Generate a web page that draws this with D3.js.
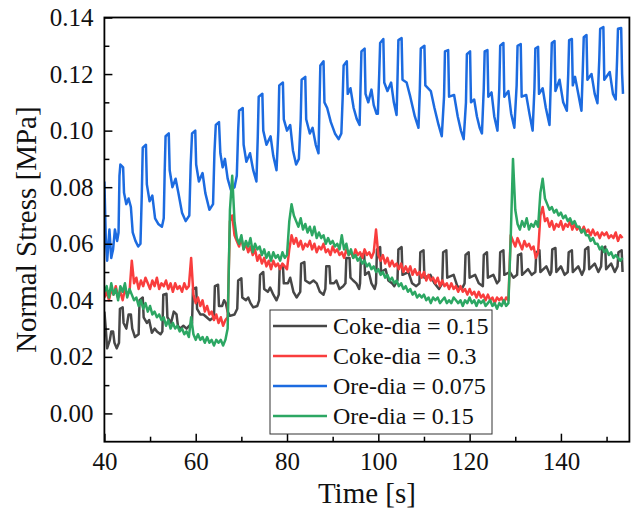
<!DOCTYPE html>
<html>
<head>
<meta charset="utf-8">
<script src="https://cdn.jsdelivr.net/npm/d3@7"></script>
<style>
  body { margin: 0; background: #fff; }
  svg { display: block; font-family: "Times New Roman", "Liberation Serif", serif; }
</style>
</head>
<body>
<div id="chart"></div>
<script>
// series, [time s, stress MPa]
const seriesNames = ["Coke-dia = 0.15", "Coke-dia = 0.3", "Ore-dia = 0.075", "Ore-dia = 0.15"];
const seriesColors = ["#474747", "#f93d3d", "#1c6be0", "#2ca763"];

const cokeSmall = [
  [40.0, 0.036], [40.3, 0.030], [40.6, 0.023], [41.2, 0.026], [41.5, 0.029], [41.9, 0.029], [42.2, 0.025], [42.7, 0.023], [43.2, 0.025],
  [43.4, 0.037], [44.0, 0.0375], [44.2, 0.032], [44.8, 0.030], [45.3, 0.035], [45.8, 0.035], [46.1, 0.030], [46.7, 0.027], [47.5, 0.028],
  [47.7, 0.040], [48.4, 0.041], [48.6, 0.034], [49.3, 0.032], [49.8, 0.033], [50.4, 0.0285], [51.0, 0.030], [51.5, 0.029], [52.3, 0.028], [52.7, 0.029],
  [52.9, 0.042], [53.6, 0.0423], [53.8, 0.034], [54.6, 0.032], [55.2, 0.036], [55.8, 0.035], [56.1, 0.031], [56.6, 0.030], [57.3, 0.031], [58.0, 0.030], [59.2, 0.032],
  [59.4, 0.044], [60.1, 0.0445], [60.3, 0.037], [61.0, 0.035], [61.7, 0.035], [62.4, 0.034], [63.1, 0.033], [64.0, 0.034],
  [64.2, 0.045], [64.9, 0.0455], [65.1, 0.038], [65.8, 0.038], [66.2, 0.040], [66.6, 0.039], [67.0, 0.036], [67.5, 0.0345], [68.5, 0.035], [69.1, 0.037],
  [69.3, 0.047], [70.0, 0.0478], [70.2, 0.041], [71.0, 0.040], [71.5, 0.041], [72.0, 0.039], [72.6, 0.0375], [73.5, 0.038], [73.9, 0.040],
  [74.1, 0.049], [74.8, 0.050], [75.0, 0.044], [75.8, 0.043], [76.3, 0.0445], [77.0, 0.042], [77.7, 0.040], [78.2, 0.042],
  [78.4, 0.052], [79.1, 0.0524], [79.3, 0.046], [80.2, 0.046], [80.7, 0.048], [81.4, 0.043], [82.1, 0.041], [82.9, 0.043],
  [83.1, 0.053], [83.8, 0.0535], [84.0, 0.047], [85.0, 0.046], [85.8, 0.047], [86.5, 0.046], [87.2, 0.043], [88.0, 0.042], [88.4, 0.044],
  [88.6, 0.052], [89.3, 0.052], [89.5, 0.046], [90.3, 0.046], [90.8, 0.047], [91.5, 0.044], [92.3, 0.045], [92.8, 0.046],
  [93.0, 0.055], [93.7, 0.055], [93.9, 0.048], [94.5, 0.047], [95.2, 0.046], [95.8, 0.044], [96.0, 0.046],
  [96.2, 0.056], [96.9, 0.0565], [97.1, 0.049], [97.9, 0.050], [98.5, 0.046], [99.2, 0.044], [99.5, 0.046],
  [99.7, 0.058], [100.4, 0.0588], [100.6, 0.050], [101.6, 0.051], [102.2, 0.047], [103.0, 0.046], [103.5, 0.045], [104.2, 0.047],
  [104.4, 0.058], [105.1, 0.0588], [105.3, 0.049], [106.6, 0.050], [107.4, 0.046], [108.3, 0.045], [109.0, 0.046],
  [109.2, 0.057], [109.9, 0.0577], [110.1, 0.048], [111.4, 0.049], [112.3, 0.046], [113.3, 0.044], [114.0, 0.046],
  [114.2, 0.057], [114.9, 0.0577], [115.1, 0.048], [116.5, 0.049], [117.3, 0.045], [118.3, 0.044], [118.9, 0.046],
  [119.1, 0.056], [119.8, 0.057], [120.0, 0.048], [121.2, 0.049], [122.0, 0.046], [122.9, 0.045],
  [123.1, 0.056], [123.8, 0.057], [124.0, 0.048], [125.2, 0.049], [126.0, 0.046], [126.5, 0.047],
  [126.7, 0.057], [127.4, 0.0577], [127.6, 0.049], [128.8, 0.050], [129.6, 0.048], [130.4, 0.049],
  [130.6, 0.056], [131.3, 0.0565], [131.5, 0.049], [132.8, 0.051], [133.6, 0.049], [134.4, 0.050],
  [134.6, 0.057], [135.3, 0.0577], [135.5, 0.050], [136.8, 0.052], [137.6, 0.049], [137.9, 0.050],
  [138.1, 0.058], [138.8, 0.0585], [139.0, 0.050], [140.0, 0.052], [140.8, 0.049], [141.5, 0.050],
  [141.7, 0.057], [142.4, 0.0577], [142.6, 0.050], [143.8, 0.052], [144.6, 0.049], [145.1, 0.051],
  [145.3, 0.058], [146.0, 0.0588], [146.2, 0.051], [147.4, 0.053], [148.2, 0.050], [148.8, 0.052],
  [149.0, 0.058], [149.7, 0.059], [149.9, 0.051], [151.0, 0.053], [151.8, 0.050], [152.4, 0.052],
  [152.6, 0.057], [153.3, 0.0577], [153.5, 0.050]
];

const oreSmall = [
  [40.0, 0.082], [40.3, 0.062], [40.6, 0.054], [41.1, 0.065], [41.5, 0.055], [41.9, 0.058], [42.3, 0.065], [42.8, 0.061], [43.1, 0.064],
  [43.3, 0.084], [43.5, 0.088], [44.1, 0.087], [44.3, 0.078], [44.8, 0.074], [45.3, 0.076], [45.8, 0.073], [46.2, 0.064], [46.8, 0.061], [47.4, 0.059], [47.9, 0.060],
  [48.2, 0.078], [48.4, 0.094], [49.1, 0.095], [49.3, 0.081], [49.9, 0.075], [50.5, 0.077], [51.1, 0.069], [51.8, 0.067], [52.6, 0.066], [53.0, 0.069],
  [53.2, 0.085], [53.4, 0.098], [54.1, 0.099], [54.3, 0.086], [54.9, 0.080], [55.6, 0.083], [56.2, 0.078], [57.0, 0.071], [57.8, 0.068], [58.6, 0.070],
  [58.9, 0.088], [59.2, 0.099], [59.9, 0.100], [60.1, 0.088], [60.7, 0.082], [61.5, 0.085], [62.1, 0.078], [63.0, 0.072], [63.8, 0.074],
  [64.1, 0.092], [64.4, 0.102], [65.1, 0.103], [65.4, 0.092], [65.9, 0.087], [66.4, 0.090], [67.0, 0.083], [67.7, 0.079], [68.5, 0.080], [69.0, 0.084],
  [69.3, 0.100], [69.5, 0.107], [70.3, 0.108], [70.5, 0.095], [71.1, 0.089], [71.9, 0.092], [72.6, 0.086], [73.3, 0.082],
  [73.6, 0.098], [73.8, 0.112], [74.6, 0.113], [74.8, 0.100], [75.5, 0.095], [76.4, 0.098], [77.0, 0.091], [77.7, 0.086],
  [78.1, 0.100], [78.3, 0.116], [79.1, 0.117], [79.3, 0.104], [80.0, 0.100], [80.7, 0.102], [81.3, 0.093], [82.0, 0.088], [82.6, 0.090],
  [83.0, 0.104], [83.2, 0.118], [84.0, 0.119], [84.2, 0.104], [85.0, 0.099], [85.6, 0.101], [86.3, 0.095], [86.9, 0.092],
  [87.1, 0.108], [87.3, 0.123], [88.0, 0.1245], [88.2, 0.110], [88.8, 0.108], [89.6, 0.103], [90.5, 0.099], [91.3, 0.097], [91.9, 0.099],
  [92.2, 0.112], [92.4, 0.123], [93.1, 0.1245], [93.3, 0.113], [93.9, 0.115], [94.6, 0.108], [95.3, 0.104], [95.9, 0.102],
  [96.1, 0.115], [96.3, 0.128], [97.0, 0.129], [97.2, 0.113], [97.8, 0.110], [98.5, 0.1145], [99.0, 0.109], [99.6, 0.106], [99.9, 0.106],
  [100.2, 0.120], [100.4, 0.131], [101.1, 0.1324], [101.3, 0.117], [102.0, 0.114], [102.8, 0.117], [103.4, 0.110], [104.0, 0.1055],
  [104.2, 0.118], [104.4, 0.132], [105.1, 0.1327], [105.3, 0.118], [106.2, 0.117], [107.0, 0.112], [108.0, 0.105], [108.8, 0.101],
  [109.1, 0.115], [109.3, 0.129], [110.1, 0.130], [110.3, 0.116], [111.5, 0.114], [112.3, 0.108], [113.2, 0.102], [113.9, 0.098],
  [114.4, 0.112], [114.6, 0.128], [115.3, 0.1285], [115.5, 0.112], [116.6, 0.1126], [117.4, 0.105], [118.1, 0.100], [118.7, 0.097],
  [119.2, 0.110], [119.4, 0.127], [120.1, 0.128], [120.3, 0.110], [121.0, 0.111], [121.6, 0.105], [122.2, 0.101], [122.7, 0.099],
  [123.1, 0.115], [123.3, 0.128], [123.9, 0.1285], [124.1, 0.112], [124.8, 0.1135], [125.4, 0.105], [126.1, 0.100],
  [126.5, 0.115], [126.7, 0.130], [127.4, 0.131], [127.6, 0.112], [128.5, 0.114], [129.1, 0.106], [129.8, 0.101],
  [130.3, 0.116], [130.5, 0.130], [131.2, 0.1306], [131.4, 0.112], [132.4, 0.1126], [133.1, 0.106], [133.8, 0.100],
  [134.2, 0.115], [134.4, 0.129], [135.0, 0.1296], [135.2, 0.113], [136.0, 0.115], [136.7, 0.108], [137.5, 0.102],
  [137.8, 0.118], [138.0, 0.131], [138.6, 0.1317], [138.8, 0.114], [139.7, 0.118], [140.5, 0.110], [141.3, 0.107],
  [141.6, 0.120], [141.8, 0.132], [142.4, 0.1324], [142.6, 0.116], [143.1, 0.119], [143.8, 0.113], [144.5, 0.107],
  [144.8, 0.122], [145.0, 0.133], [145.6, 0.1338], [145.8, 0.118], [146.7, 0.120], [147.4, 0.113], [148.0, 0.1097],
  [148.4, 0.125], [148.6, 0.136], [149.3, 0.1366], [149.5, 0.118], [150.7, 0.1207], [151.4, 0.113], [152.0, 0.111],
  [152.3, 0.125], [152.5, 0.136], [153.2, 0.1363], [153.4, 0.120], [153.6, 0.113]
];

// Coke-dia = 0.3 and Ore-dia = 0.15 are sampled every 0.5 s from 40 s
const sampleStart = 40;
const sampleStep = 0.5;
const cokeLargeV = [0.041, 0.043, 0.040, 0.044, 0.042, 0.045, 0.041, 0.043, 0.040, 0.044, 0.042, 0.043,
  0.054,
  0.046, 0.048, 0.044, 0.047, 0.045, 0.048, 0.046, 0.044, 0.047, 0.045, 0.048, 0.044, 0.046, 0.045, 0.047, 0.044, 0.046, 0.043, 0.046, 0.044, 0.045, 0.043, 0.046, 0.044, 0.045,
  0.055,
  0.042, 0.039, 0.041, 0.038, 0.040, 0.036, 0.038, 0.035, 0.036, 0.033, 0.035, 0.032, 0.034, 0.031, 0.033,
  0.034, 0.068, 0.070, 0.063,
  0.061, 0.059, 0.062, 0.058, 0.060, 0.057, 0.059, 0.056, 0.058,
  0.054, 0.056, 0.053, 0.055, 0.052, 0.054, 0.051, 0.054, 0.052, 0.053, 0.051, 0.053, 0.052, 0.051,
  0.058, 0.063,
  0.060, 0.062, 0.059, 0.061, 0.058, 0.060, 0.059, 0.061, 0.058, 0.060, 0.057, 0.059, 0.058, 0.060, 0.057, 0.058, 0.056, 0.059, 0.057, 0.058, 0.056,
  0.057, 0.055, 0.058, 0.056, 0.057, 0.055, 0.058, 0.056, 0.057, 0.055, 0.058, 0.056, 0.057, 0.055, 0.057,
  0.065,
  0.056, 0.054, 0.056, 0.053, 0.055, 0.052, 0.054, 0.052, 0.053, 0.051, 0.053, 0.050, 0.052, 0.050, 0.052, 0.049, 0.051, 0.049, 0.050, 0.048,
  0.050, 0.047, 0.049, 0.047, 0.048, 0.046, 0.048, 0.045, 0.047, 0.045, 0.046, 0.044, 0.046, 0.044, 0.045, 0.043, 0.045, 0.043, 0.044, 0.042,
  0.044, 0.042, 0.043, 0.041, 0.043, 0.041, 0.042, 0.040, 0.042, 0.040, 0.041, 0.039, 0.041, 0.040, 0.041, 0.039, 0.041, 0.040,
  0.063,
  0.061, 0.059, 0.062, 0.060, 0.058, 0.061, 0.059, 0.060, 0.058, 0.059,
  0.055, 0.057,
  0.070, 0.073, 0.068,
  0.069, 0.066, 0.068, 0.065, 0.067, 0.066, 0.068, 0.065, 0.067, 0.066, 0.068, 0.065, 0.067, 0.065, 0.066, 0.064, 0.066,
  0.064, 0.065, 0.063, 0.065, 0.063, 0.064, 0.062, 0.064, 0.063, 0.064, 0.062, 0.063, 0.062, 0.064, 0.061, 0.063, 0.062];

const oreLargeV = [0.043, 0.045, 0.041, 0.046, 0.042, 0.044, 0.040, 0.045, 0.043, 0.046, 0.041, 0.044,
  0.042, 0.040, 0.041, 0.038, 0.040, 0.037, 0.039, 0.036, 0.038, 0.035, 0.036, 0.034, 0.035,
  0.033, 0.034, 0.031, 0.033, 0.030, 0.032, 0.030, 0.031, 0.029, 0.030,
  0.028, 0.029, 0.027, 0.034, 0.028, 0.026, 0.028, 0.026, 0.027, 0.025, 0.027, 0.025, 0.026, 0.024, 0.026, 0.025, 0.026, 0.024, 0.026,
  0.030, 0.072, 0.084, 0.068, 0.062,
  0.060, 0.063, 0.058, 0.061, 0.059, 0.062, 0.057, 0.060, 0.058, 0.059,
  0.056, 0.058, 0.055, 0.057, 0.054, 0.057, 0.055, 0.056, 0.054, 0.057, 0.055, 0.056,
  0.068, 0.074, 0.070,
  0.068, 0.066, 0.069, 0.065, 0.067, 0.064, 0.066, 0.063, 0.066, 0.062, 0.064, 0.062, 0.063, 0.060, 0.062, 0.060, 0.061, 0.059, 0.060, 0.058,
  0.063, 0.058, 0.060, 0.056, 0.058, 0.055, 0.056, 0.054, 0.055, 0.053, 0.054, 0.052, 0.053, 0.051, 0.052, 0.050, 0.051,
  0.049, 0.050, 0.048, 0.049, 0.047, 0.048, 0.046, 0.047, 0.045, 0.046, 0.044, 0.045, 0.043, 0.044, 0.042, 0.043, 0.041, 0.042, 0.041, 0.042,
  0.040, 0.041, 0.039, 0.041, 0.040, 0.041, 0.039, 0.040, 0.041, 0.039, 0.040, 0.039, 0.041, 0.040, 0.039, 0.040, 0.038, 0.040, 0.039, 0.041,
  0.039, 0.040, 0.038, 0.040, 0.039, 0.040, 0.038, 0.039, 0.040, 0.038, 0.039, 0.037, 0.039, 0.038, 0.040, 0.038, 0.039,
  0.062, 0.090, 0.072,
  0.067, 0.065, 0.068, 0.066, 0.069, 0.065, 0.067, 0.066, 0.068, 0.066,
  0.078, 0.083, 0.076,
  0.074, 0.072, 0.073, 0.071, 0.072, 0.070, 0.071, 0.069, 0.070, 0.068, 0.069, 0.067, 0.068, 0.066, 0.066, 0.064, 0.065,
  0.063, 0.063, 0.061, 0.062, 0.060, 0.060, 0.058, 0.059, 0.057, 0.058, 0.056, 0.057, 0.055, 0.056, 0.055, 0.054, 0.055];

const xMajorTicks = [40, 60, 80, 100, 120, 140];
const xMinorTicks = [50, 70, 90, 110, 130, 150];
const yMajorTicks = [0.00, 0.02, 0.04, 0.06, 0.08, 0.10, 0.12, 0.14];
const yMinorTicks = [0.01, 0.03, 0.05, 0.07, 0.09, 0.11, 0.13];

const width = 631;
const height = 514;
const margin = { top: 17.5, right: 1.6, bottom: 72.3, left: 104.4 };

const sampled = vals => vals.map((v, i) => [sampleStart + i * sampleStep, v]);
const series = [cokeSmall, sampled(cokeLargeV), oreSmall, sampled(oreLargeV)];

const x = d3.scaleLinear()
  .domain([40, 155])
  .range([margin.left, width - margin.right]);

const y = d3.scaleLinear()
  .domain([-0.01, 0.14])
  .range([height - margin.bottom, margin.top]);

const svg = d3.select("#chart").append("svg")
  .attr("width", width)
  .attr("height", height)
  .attr("viewBox", [0, 0, width, height]);

svg.append("clipPath")
  .attr("id", "plot-clip")
  .append("rect")
  .attr("x", margin.left)
  .attr("y", margin.top)
  .attr("width", width - margin.left - margin.right)
  .attr("height", height - margin.top - margin.bottom);

const line = d3.line()
  .x(d => x(d[0]))
  .y(d => y(d[1]));

svg.append("g")
  .attr("clip-path", "url(#plot-clip)")
  .selectAll("path")
  .data(series)
  .join("path")
  .attr("fill", "none")
  .attr("stroke", (d, i) => seriesColors[i])
  .attr("stroke-width", 2.5)
  .attr("stroke-linejoin", "round")
  .attr("d", line);

// axes: ticks point inward
const xAxis = g => g
  .attr("transform", `translate(0,${height - margin.bottom})`)
  .call(d3.axisBottom(x).tickValues(xMajorTicks).tickSize(-8).tickPadding(11).tickFormat(d3.format("d")))
  .call(g => g.append("g").call(d3.axisBottom(x).tickValues(xMinorTicks).tickSize(-5).tickFormat("")))
  .call(g => g.selectAll(".domain").remove());

const yAxis = g => g
  .attr("transform", `translate(${margin.left},0)`)
  .call(d3.axisLeft(y).tickValues(yMajorTicks).tickSize(-8).tickPadding(11).tickFormat(d3.format(".2f")))
  .call(g => g.append("g").call(d3.axisLeft(y).tickValues(yMinorTicks).tickSize(-5).tickFormat("")))
  .call(g => g.selectAll(".domain").remove());

svg.append("g").call(xAxis);
svg.append("g").call(yAxis);

svg.selectAll(".tick line")
  .attr("stroke", "#000")
  .attr("stroke-width", 1.5);
svg.selectAll(".tick text")
  .attr("fill", "#111")
  .style("font-family", '"Times New Roman", "Liberation Serif", serif')
  .style("font-size", "25px");

// plot frame
svg.append("rect")
  .attr("x", margin.left)
  .attr("y", margin.top)
  .attr("width", width - margin.left - margin.right)
  .attr("height", height - margin.top - margin.bottom)
  .attr("fill", "none")
  .attr("stroke", "#000")
  .attr("stroke-width", 1.8);

// axis titles
svg.append("text")
  .attr("x", (margin.left + width - margin.right) / 2)
  .attr("y", 503)
  .attr("text-anchor", "middle")
  .style("font-size", "29px")
  .attr("fill", "#111")
  .text("Time [s]");

svg.append("text")
  .attr("transform", `translate(36,${(margin.top + height - margin.bottom) / 2}) rotate(-90)`)
  .attr("text-anchor", "middle")
  .style("font-size", "29px")
  .attr("fill", "#111")
  .text("Normal Stress [MPa]");

// legend
const legend = svg.append("g")
  .attr("transform", "translate(270,310)");

legend.append("rect")
  .attr("width", 222)
  .attr("height", 124)
  .attr("fill", "#fff")
  .attr("stroke", "#333")
  .attr("stroke-width", 1);

const item = legend.selectAll("g.item")
  .data(seriesNames)
  .join("g")
  .attr("class", "item")
  .attr("transform", (d, i) => `translate(0,${16 + i * 30})`);

item.append("line")
  .attr("x1", 3)
  .attr("x2", 57)
  .attr("stroke", (d, i) => seriesColors[i])
  .attr("stroke-width", 2.5);

item.append("text")
  .attr("x", 63)
  .attr("y", 8)
  .style("font-size", "24px")
  .attr("fill", "#111")
  .text(d => d);
</script>
</body>
</html>
